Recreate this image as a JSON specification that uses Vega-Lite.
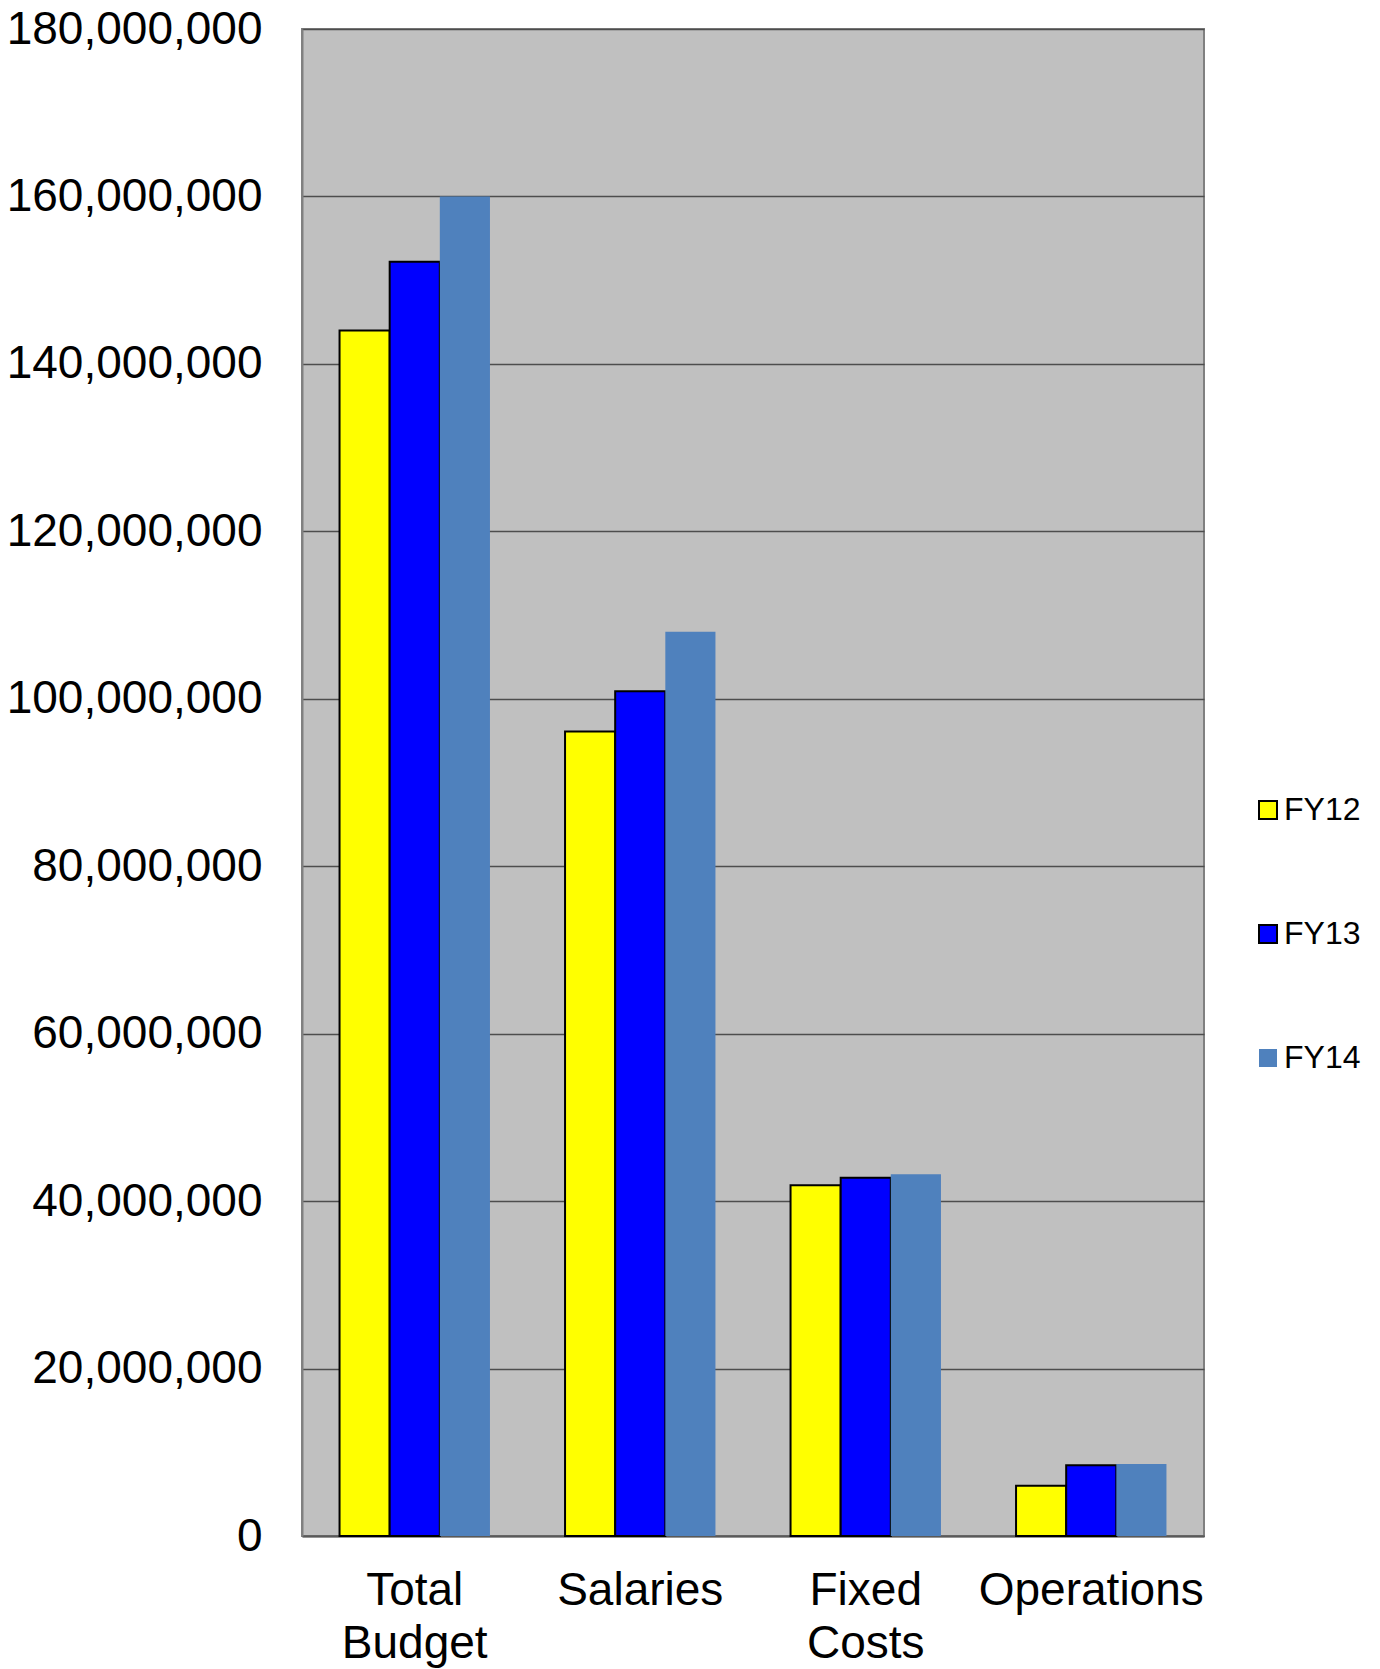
{
  "$schema": "https://vega.github.io/schema/vega-lite/v6.json",
  "autosize": {"type": "none"},
  "padding": {"left": 302, "top": 29, "right": 176, "bottom": 133},
  "width": 902,
  "height": 1507,
  "background": "#ffffff",
  "config": {
    "view": {"fill": "#C0C0C0", "stroke": "#808080", "strokeWidth": 2},
    "font": "Liberation Sans"
  },
  "data": {
    "values": [
      {"category": "Total Budget", "year": "FY12", "value": 144000000},
      {"category": "Total Budget", "year": "FY13", "value": 152200000},
      {"category": "Total Budget", "year": "FY14", "value": 160000000},
      {"category": "Salaries", "year": "FY12", "value": 96100000},
      {"category": "Salaries", "year": "FY13", "value": 100900000},
      {"category": "Salaries", "year": "FY14", "value": 108000000},
      {"category": "Fixed Costs", "year": "FY12", "value": 41900000},
      {"category": "Fixed Costs", "year": "FY13", "value": 42800000},
      {"category": "Fixed Costs", "year": "FY14", "value": 43200000},
      {"category": "Operations", "year": "FY12", "value": 6000000},
      {"category": "Operations", "year": "FY13", "value": 8450000},
      {"category": "Operations", "year": "FY14", "value": 8600000}
    ]
  },
  "mark": {"type": "bar", "strokeWidth": 2},
  "encoding": {
    "x": {
      "field": "category",
      "type": "nominal",
      "sort": ["Total Budget", "Salaries", "Fixed Costs", "Operations"],
      "scale": {"paddingInner": 0.333, "paddingOuter": 0.1665},
      "axis": {
        "title": null,
        "labelAngle": 0,
        "labelFontSize": 46,
        "labelColor": "#000000",
        "labelPadding": 32,
        "labelLineHeight": 53,
        "labelLimit": 0,
        "labelExpr": "split(datum.label, ' ')",
        "ticks": false,
        "domainColor": "#595959",
        "domainWidth": 2,
        "labelBaseline": "top"
      }
    },
    "xOffset": {
      "field": "year",
      "type": "nominal",
      "scale": {"paddingInner": 0, "paddingOuter": 0}
    },
    "y": {
      "field": "value",
      "type": "quantitative",
      "scale": {"domain": [0, 180000000], "nice": false},
      "axis": {
        "title": null,
        "values": [0, 20000000, 40000000, 60000000, 80000000, 100000000, 120000000, 140000000, 160000000, 180000000],
        "format": ",d",
        "labelFontSize": 46,
        "labelColor": "#000000",
        "labelPadding": 40,
        "labelLimit": 0,
        "ticks": false,
        "domainColor": "#808080",
        "domainWidth": 2,
        "gridColor": "#4d4d4d",
        "gridWidth": 1.5,
        "labelBound": false,
        "labelFlush": false
      }
    },
    "fill": {
      "field": "year",
      "type": "nominal",
      "scale": {"domain": ["FY12", "FY13", "FY14"], "range": ["#FFFF00", "#0000FF", "#4F81BD"]},
      "legend": {
        "title": null,
        "orient": "none",
        "legendX": 950,
        "legendY": 765,
        "symbolType": "square",
        "symbolSize": 324,
        "symbolStrokeWidth": 2,
        "labelFontSize": 32,
        "labelColor": "#000000",
        "labelOffset": 0,
        "rowPadding": 92
      }
    },
    "stroke": {
      "field": "year",
      "type": "nominal",
      "scale": {"domain": ["FY12", "FY13", "FY14"], "range": ["#000000", "#000000", "rgba(0,0,0,0)"]},
      "legend": {
        "title": null,
        "orient": "none",
        "legendX": 950,
        "legendY": 765,
        "symbolType": "square",
        "symbolSize": 324,
        "symbolStrokeWidth": 2,
        "labelFontSize": 32,
        "labelColor": "#000000",
        "labelOffset": 0,
        "rowPadding": 92
      }
    }
  }
}
